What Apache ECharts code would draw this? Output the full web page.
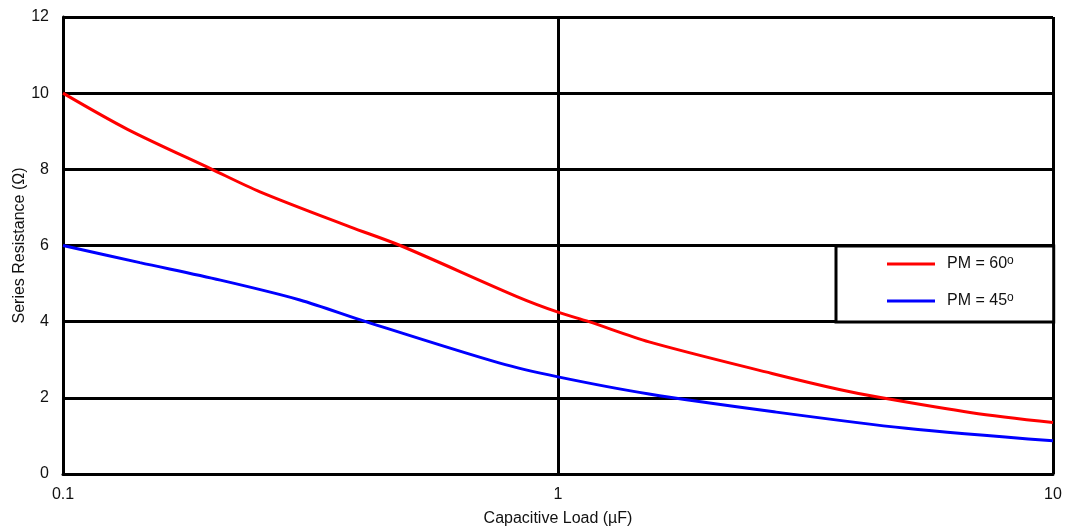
<!DOCTYPE html>
<html>
<head>
<meta charset="utf-8">
<script src="https://cdn.jsdelivr.net/npm/echarts@6/dist/echarts.min.js"></script>
<style>html,body{margin:0;padding:0;background:#fff}#c{width:1068px;height:531px}</style>
</head>
<body>
<div id="c"></div>
<script>
const seriesNames = ['PM = 60°', 'PM = 45°'];
const pm60X = [0.1, 0.135, 0.2, 0.25, 0.38, 0.48, 0.826, 1.0, 1.155, 1.527, 2.706, 3.7, 4.51, 6.85, 10];
const pm60Y = [10, 9.05, 8.0, 7.41, 6.49, 6.0, 4.66, 4.25, 4.0, 3.47, 2.64, 2.22, 2.0, 1.61, 1.35];
const pm45X = [0.1, 0.143, 0.208, 0.301, 0.409, 0.763, 1.0, 1.527, 2.706, 5.05, 10];
const pm45Y = [6, 5.55, 5.09, 4.57, 4.0, 2.91, 2.55, 2.1, 1.64, 1.2, 0.87];
const xTicks = [0.1, 1, 10];
const yTicks = [0, 2, 4, 6, 8, 10, 12];

const zip = (xs, ys) => xs.map((x, i) => [x, ys[i]]);
const font = 'Liberation Sans, Arial, sans-serif';
const txt = '#111';
const chart = echarts.init(document.getElementById('c'), null, {renderer: 'canvas'});
chart.setOption({
  animation: false,
  backgroundColor: '#fff',
  grid: {left: 63, right: 15, top: 17, bottom: 57, containLabel: false, outerBoundsMode: 'none'},
  xAxis: {
    type: 'log', logBase: 10, min: xTicks[0], max: xTicks[xTicks.length - 1],
    name: 'Capacitive Load (µF)', nameLocation: 'middle', nameGap: 37, nameMoveOverlap: false,
    nameTextStyle: {fontFamily: font, fontSize: 16, color: txt},
    axisLine: {show: true, lineStyle: {color: '#000', width: 3}},
    axisTick: {show: false},
    axisLabel: {fontFamily: font, fontSize: 16, color: txt, margin: 13,
      formatter: v => String(Number(v.toPrecision(3)))},
    splitLine: {show: true, lineStyle: {color: '#000', width: 3}},
    minorTick: {show: false}
  },
  yAxis: {
    type: 'value', min: yTicks[0], max: yTicks[yTicks.length - 1], interval: 2,
    name: 'Series Resistance (Ω)', nameLocation: 'middle', nameGap: 35, nameMoveOverlap: false,
    nameTextStyle: {fontFamily: font, fontSize: 16, color: txt},
    axisLine: {show: true, lineStyle: {color: '#000', width: 3}},
    axisTick: {show: false},
    axisLabel: {fontFamily: font, fontSize: 16, color: txt, margin: 14},
    splitLine: {show: true, lineStyle: {color: '#000', width: 3}}
  },
  legend: {
    orient: 'vertical', left: 836, top: 246,
    backgroundColor: '#fff', borderColor: '#000', borderWidth: 3, borderRadius: 0,
    padding: [9, 40, 12, 51], itemGap: 19,
    icon: 'rect', itemWidth: 48, itemHeight: 3,
    formatter: name => name.replace('°', '{sup|o}'),
    textStyle: {fontFamily: font, fontSize: 16, lineHeight: 18, color: txt, padding: [0, 0, 0, 7],
      rich: {sup: {fontFamily: font, fontSize: 12, lineHeight: 12, verticalAlign: 'top', color: txt}}},
    data: seriesNames
  },
  series: [
    {name: seriesNames[0], type: 'line', data: zip(pm60X, pm60Y), smooth: 0.3, symbol: 'none',
      color: '#ff0000', lineStyle: {color: '#ff0000', width: 3}},
    {name: seriesNames[1], type: 'line', data: zip(pm45X, pm45Y), smooth: 0.3, symbol: 'none',
      color: '#0000ff', lineStyle: {color: '#0000ff', width: 3}}
  ]
});
</script>
</body>
</html>
